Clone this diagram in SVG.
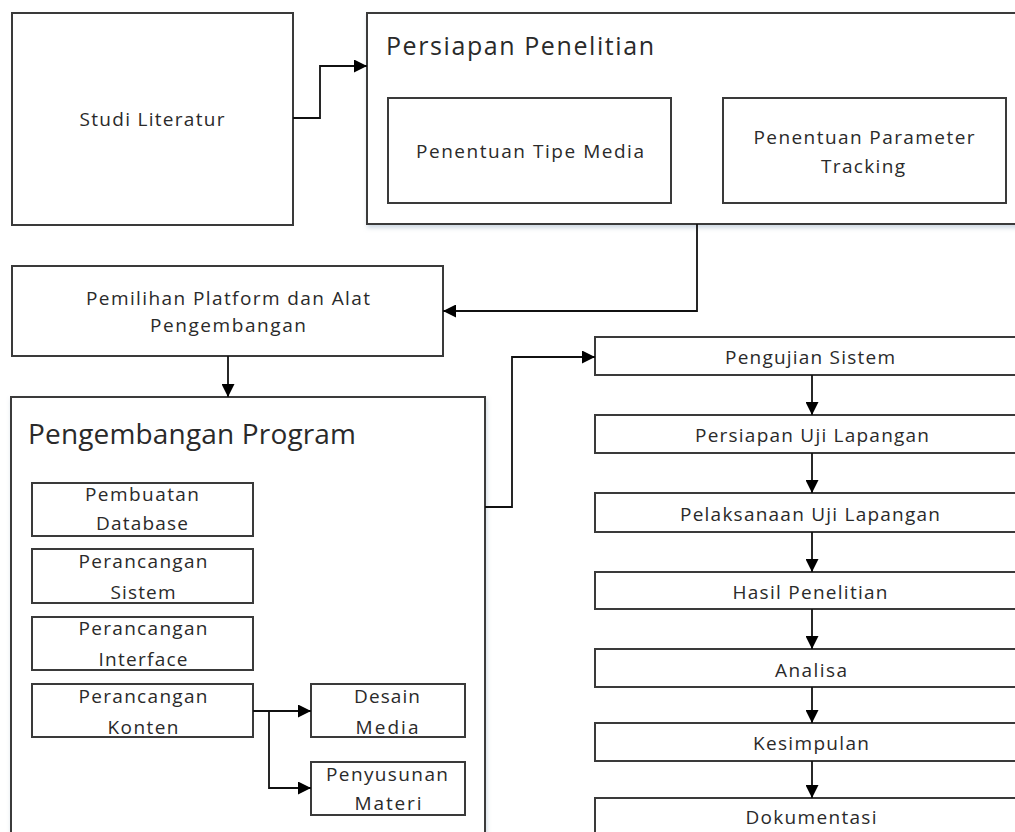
<svg xmlns="http://www.w3.org/2000/svg" width="1015" height="832" viewBox="0 0 1015 832">
<defs>
<marker id="arr" viewBox="0 0 12 12" markerWidth="13" markerHeight="13" refX="12" refY="6" orient="auto" markerUnits="userSpaceOnUse">
<path d="M0,0 L12,6 L0,12 z" fill="#000"/>
</marker>
<filter id="sh" x="-5%" y="-5%" width="115%" height="120%">
<feDropShadow dx="1" dy="3" stdDeviation="2" flood-color="#9fb3c8" flood-opacity="0.5"/>
</filter>
</defs>
<style>
rect{fill:#fff;stroke:#3a3a3a;stroke-width:2}
text{font-family:"Open Sans","Liberation Sans",sans-serif;font-size:19px;fill:#2a2a2a;text-anchor:middle}
.t{font-size:25px;text-anchor:start}
.t2{font-size:28px;text-anchor:start}
.c{fill:none;stroke:#111;stroke-width:1.8;marker-end:url(#arr)}
</style>
<rect x="0" y="0" width="1015" height="832" style="fill:#fff;stroke:none"/>

<g id="studi">
<rect x="12" y="13" width="281" height="212"/>
<text x="152" y="126" textLength="145" lengthAdjust="spacing">Studi Literatur</text>
</g>

<g id="persiapan">
<rect x="367" y="13" width="660" height="211" filter="url(#sh)"/>
<text class="t" x="386" y="55" textLength="268" lengthAdjust="spacing">Persiapan Penelitian</text>
</g>
<g id="tipe">
<rect x="388" y="98" width="283" height="105"/>
<text x="530" y="158" textLength="228" lengthAdjust="spacing">Penentuan Tipe Media</text>
</g>
<g id="parameter">
<rect x="723" y="98" width="283" height="105"/>
<text x="864" y="144" textLength="221" lengthAdjust="spacing">Penentuan Parameter</text>
<text x="863" y="173" textLength="84" lengthAdjust="spacing">Tracking</text>
</g>

<g id="pemilihan">
<rect x="12" y="266" width="431" height="90"/>
<text x="228" y="305" textLength="284" lengthAdjust="spacing">Pemilihan Platform dan Alat</text>
<text x="228" y="332" textLength="156" lengthAdjust="spacing">Pengembangan</text>
</g>

<g id="pengembangan">
<rect x="11" y="397" width="474" height="450" filter="url(#sh)"/>
<text class="t2" x="28" y="444" textLength="328" lengthAdjust="spacing">Pengembangan Program</text>
</g>
<g id="database">
<rect x="32" y="483" width="221" height="53"/>
<text x="142" y="501" textLength="114" lengthAdjust="spacing">Pembuatan</text>
<text x="142" y="530" textLength="92" lengthAdjust="spacing">Database</text>
</g>
<g id="sistem">
<rect x="32" y="549" width="221" height="54"/>
<text x="143" y="568" textLength="129" lengthAdjust="spacing">Perancangan</text>
<text x="143" y="599" textLength="65" lengthAdjust="spacing">Sistem</text>
</g>
<g id="interface">
<rect x="32" y="617" width="221" height="53"/>
<text x="143" y="635" textLength="129" lengthAdjust="spacing">Perancangan</text>
<text x="143" y="666" textLength="89" lengthAdjust="spacing">Interface</text>
</g>
<g id="konten">
<rect x="32" y="684" width="221" height="53"/>
<text x="143" y="703" textLength="129" lengthAdjust="spacing">Perancangan</text>
<text x="143" y="734" textLength="71" lengthAdjust="spacing">Konten</text>
</g>
<g id="desain">
<rect x="311" y="684" width="154" height="53"/>
<text x="387" y="703" textLength="66" lengthAdjust="spacing">Desain</text>
<text x="387" y="734" textLength="63" lengthAdjust="spacing">Media</text>
</g>
<g id="penyusunan">
<rect x="311" y="762" width="154" height="53"/>
<text x="387" y="781" textLength="122" lengthAdjust="spacing">Penyusunan</text>
<text x="388" y="810" textLength="67" lengthAdjust="spacing">Materi</text>
</g>

<g id="pengujian">
<rect x="595" y="337" width="430" height="38"/>
<text x="810" y="364" textLength="170" lengthAdjust="spacing">Pengujian Sistem</text>
</g>
<g id="persiapan-uji">
<rect x="595" y="415" width="430" height="38"/>
<text x="812" y="442" textLength="234" lengthAdjust="spacing">Persiapan Uji Lapangan</text>
</g>
<g id="pelaksanaan">
<rect x="595" y="493" width="430" height="39"/>
<text x="810" y="521" textLength="260" lengthAdjust="spacing">Pelaksanaan Uji Lapangan</text>
</g>
<g id="hasil">
<rect x="595" y="572" width="430" height="37"/>
<text x="810" y="599" textLength="155" lengthAdjust="spacing">Hasil Penelitian</text>
</g>
<g id="analisa">
<rect x="595" y="649" width="430" height="38"/>
<text x="811" y="677" textLength="72" lengthAdjust="spacing">Analisa</text>
</g>
<g id="kesimpulan">
<rect x="595" y="723" width="430" height="38"/>
<text x="811" y="750" textLength="116" lengthAdjust="spacing">Kesimpulan</text>
</g>
<g id="dokumentasi">
<rect x="595" y="798" width="430" height="50"/>
<text x="811" y="824" textLength="131" lengthAdjust="spacing">Dokumentasi</text>
</g>

<g id="connectors">
<path class="c" d="M293,118 H320 V66 H367"/>
<path class="c" d="M697,224 V311 H443"/>
<path class="c" d="M228,356 V397"/>
<path class="c" d="M485,507 H512 V357 H595"/>
<path class="c" d="M253,711 H311"/>
<path class="c" d="M269,711 V788 H311"/>
<path class="c" d="M812,375 V415"/>
<path class="c" d="M812,453 V493"/>
<path class="c" d="M812,532 V572"/>
<path class="c" d="M812,609 V649"/>
<path class="c" d="M812,687 V723"/>
<path class="c" d="M812,761 V798"/>
</g>
</svg>
